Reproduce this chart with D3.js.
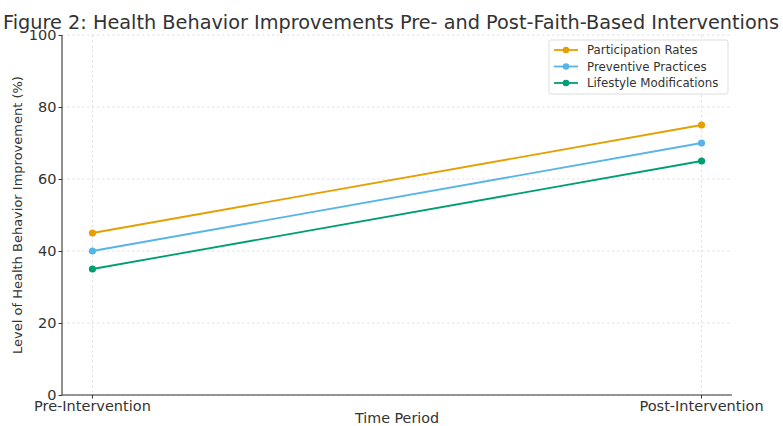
<!DOCTYPE html>
<html>
<head>
<meta charset="utf-8">
<script src="https://cdn.jsdelivr.net/npm/d3@7"></script>
<style>
  html, body { margin: 0; padding: 0; background: #fff; }
  svg { display: block; font-family: "DejaVu Sans", sans-serif; }
</style>
</head>
<body>
<svg id="chart" width="783" height="426"></svg>
<script>
// Time periods on the x axis
const periods = ["Pre-Intervention", "Post-Intervention"];
// Health behavior improvement (%) per series
const participationRates = [45, 75];
const preventivePractices = [40, 70];
const lifestyleModifications = [35, 65];
const seriesNames = ["Participation Rates", "Preventive Practices", "Lifestyle Modifications"];
const seriesColors = ["#E69F00", "#56B4E9", "#009E73"];
const yTicks = [0, 20, 40, 60, 80, 100];

const series = [participationRates, preventivePractices, lifestyleModifications].map((vals, i) => ({
  name: seriesNames[i], color: seriesColors[i],
  points: vals.map((v, j) => ({ period: periods[j], value: v }))
}));

const svg = d3.select("#chart");
const plotL = 62, plotR = 732, plotT = 35, plotB = 395;

// periods are inset from the plot edges by 5% of the data span
const xPos = d3.scaleLinear().domain([-0.05, 1.05]).range([plotL, plotR]);
const xp = p => xPos(periods.indexOf(p));
const y = d3.scaleLinear().domain([0, 100]).range([plotB, plotT]);

// grid
const grid = svg.append("g").attr("stroke", "#d9d9d9").attr("stroke-width", 0.8).attr("stroke-dasharray", "2.5,2.5");
yTicks.forEach(t => grid.append("line").attr("x1", plotL).attr("x2", plotR).attr("y1", y(t)).attr("y2", y(t)));
periods.forEach(p => grid.append("line").attr("x1", xp(p)).attr("x2", xp(p)).attr("y1", plotT).attr("y2", plotB));

// lines and markers
const line = d3.line().x(d => xp(d.period)).y(d => y(d.value));
series.forEach(s => {
  svg.append("path").datum(s.points).attr("d", line).attr("fill", "none")
    .attr("stroke", s.color).attr("stroke-width", 1.8);
  svg.selectAll(null).data(s.points).enter().append("circle")
    .attr("cx", d => xp(d.period)).attr("cy", d => y(d.value)).attr("r", 3.6).attr("fill", s.color);
});

// y axis
const yAxis = d3.axisLeft(y).tickValues(yTicks).tickSize(3.5).tickPadding(2);
const gy = svg.append("g").attr("transform", `translate(${plotL},0)`).call(yAxis);
gy.select(".domain").attr("stroke", "#333").attr("stroke-width", 1.1).attr("d", `M0,${plotB}V${plotT}`);
gy.selectAll(".tick line").attr("stroke", "#333");
gy.selectAll(".tick text").attr("font-size", 14.5).attr("fill", "#333").attr("font-family", "DejaVu Sans");

// x axis
const gx = svg.append("g").attr("transform", `translate(0,${plotB})`);
gx.append("line").attr("x1", plotL).attr("x2", plotR).attr("stroke", "#333").attr("stroke-width", 1.1);
periods.forEach(p => {
  gx.append("line").attr("x1", xp(p)).attr("x2", xp(p)).attr("y1", 0).attr("y2", 3.5).attr("stroke", "#333");
  gx.append("text").attr("x", xp(p)).attr("y", 16).attr("text-anchor", "middle")
    .attr("font-size", 14.5).attr("fill", "#333").text(p);
});

// axis titles
svg.append("text").attr("x", (plotL + plotR) / 2).attr("y", 422.5).attr("text-anchor", "middle")
  .attr("font-size", 14.3).attr("fill", "#333").text("Time Period");
svg.append("text").attr("transform", `translate(22,${(plotT + plotB) / 2}) rotate(-90)`)
  .attr("text-anchor", "middle").attr("font-size", 13).attr("fill", "#333")
  .text("Level of Health Behavior Improvement (%)");

// title
svg.append("text").attr("x", 391).attr("y", 29).attr("text-anchor", "middle")
  .attr("font-size", 19.3).attr("fill", "#333")
  .text("Figure 2: Health Behavior Improvements Pre- and Post-Faith-Based Interventions");

// legend
const lg = svg.append("g").attr("transform", "translate(549,40)");
lg.append("rect").attr("width", 179).attr("height", 54).attr("rx", 2).attr("fill", "#fff")
  .attr("fill-opacity", 0.85).attr("stroke", "#ddd");
series.forEach((s, i) => {
  const yy = 10 + i * 16.5;
  lg.append("line").attr("x1", 5).attr("x2", 29).attr("y1", yy).attr("y2", yy)
    .attr("stroke", s.color).attr("stroke-width", 1.8);
  lg.append("circle").attr("cx", 17).attr("cy", yy).attr("r", 3.3).attr("fill", s.color);
  lg.append("text").attr("x", 38).attr("y", yy + 4).attr("font-size", 11.8).attr("fill", "#333").text(s.name);
});
</script>
</body>
</html>
